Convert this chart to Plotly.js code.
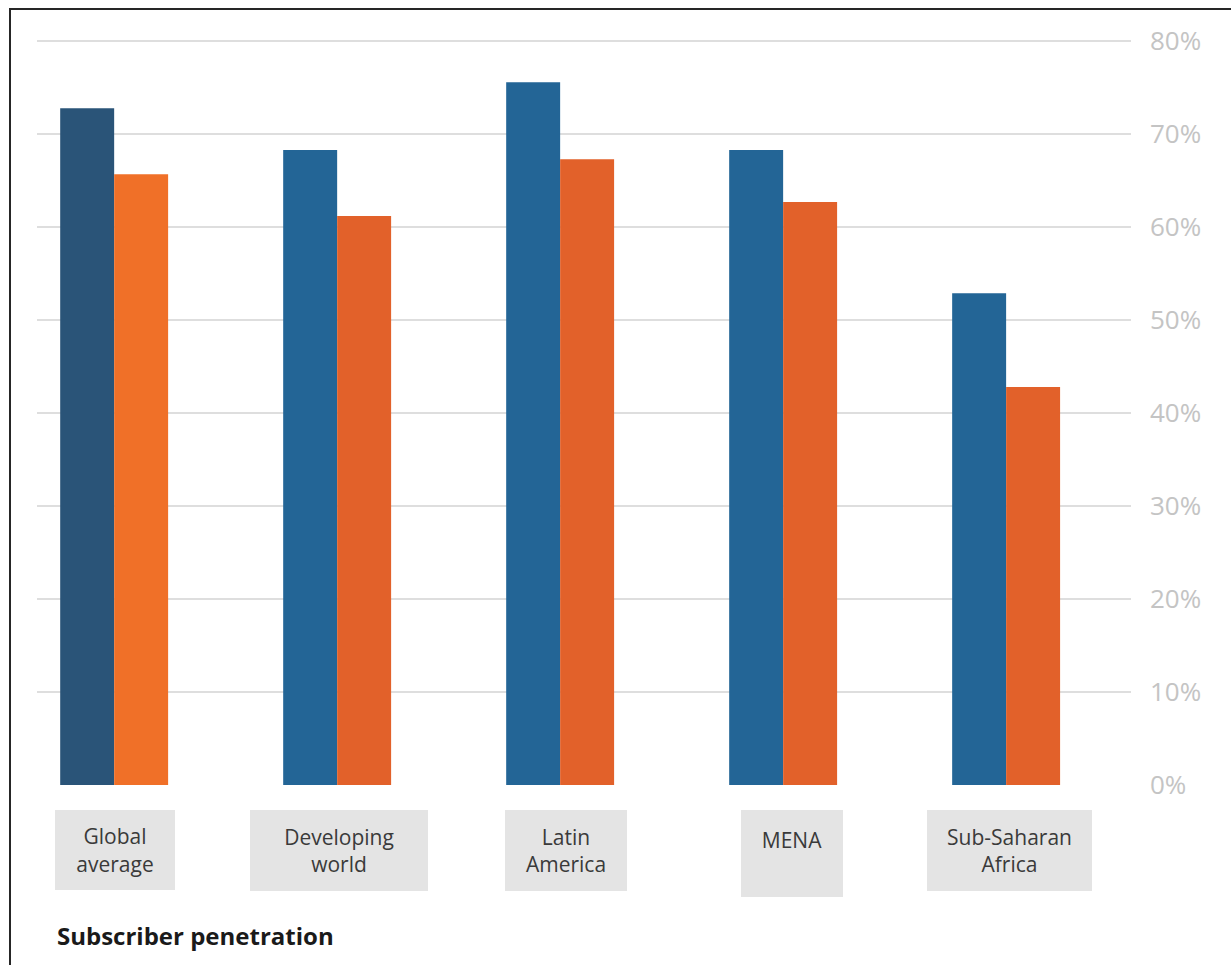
<!DOCTYPE html>
<html>
<head>
<meta charset="utf-8">
<script src="https://cdn.plot.ly/plotly-3.0.1.min.js"></script>
<style>
  html, body { margin: 0; padding: 0; background: #ffffff; }
  #chart { width: 1231px; height: 965px; }
  #frame { position: absolute; left: 9px; top: 8px; width: 1240px; height: 1000px;
           border-left: 2px solid #262626; border-top: 2px solid #262626; pointer-events: none; }
</style>
</head>
<body>
<div id="chart"></div>
<div id="frame"></div>
<script>
// ---- data ----
const categories = ["Global average", "Developing world", "Latin America", "MENA", "Sub-Saharan Africa"];
const categoryLabels = ["Global<br>average", "Developing<br>world", "Latin<br>America", "MENA<br> ", "Sub-Saharan<br>Africa"];
const seriesA = [0.728, 0.683, 0.756, 0.683, 0.529];   // blue bars
const seriesB = [0.657, 0.612, 0.673, 0.627, 0.428];   // orange bars
const yTickValues = [0, 0.1, 0.2, 0.3, 0.4, 0.5, 0.6, 0.7, 0.8];
const yTickLabels = ["0%", "10%", "20%", "30%", "40%", "50%", "60%", "70%", "80%"];
const chartTitle = "Subscriber penetration";

// ---- styling (not data) ----
const blueColors = ["#2a5478", "#236596", "#236596", "#236596", "#236596"];
const orangeColors = ["#f07028", "#e2612a", "#e2612a", "#e2612a", "#e2612a"];
const labelBoxWidths = [120, 178, 122, 102, 165];
const labelBoxHeights = [80, 81, 81, 87, 81];
const labelBoxShift = [1, 2, 6, 9, 3];

const traces = [
  { type: "bar", x: categories, y: seriesA, marker: { color: blueColors }, showlegend: false, hoverinfo: "x+y" },
  { type: "bar", x: categories, y: seriesB, marker: { color: orangeColors }, showlegend: false, hoverinfo: "x+y" }
];

const annotations = categories.map((c, i) => ({
  xref: "x", yref: "paper", x: c, y: -0.0332, xanchor: "center", yanchor: "top",
  xshift: labelBoxShift[i],
  text: categoryLabels[i], showarrow: false,
  width: labelBoxWidths[i], height: labelBoxHeights[i],
  bgcolor: "#e4e4e4", borderpad: 0, borderwidth: 0, valign: "middle", align: "center",
  font: { family: "Open Sans, sans-serif", size: 21, color: "#3a3a3a" }
}));

const layout = {
  width: 1231, height: 965,
  margin: { l: 37, r: 100, t: 32, b: 180 },
  paper_bgcolor: "#ffffff", plot_bgcolor: "#ffffff",
  barmode: "group", bargap: 0.516, bargroupgap: 0,
  title: {
    text: "<b>" + chartTitle + "</b>",
    xref: "container", yref: "container", x: 57 / 1231, xanchor: "left",
    y: 1 - 937 / 965, yanchor: "middle",
    font: { family: "Open Sans, sans-serif", size: 24, color: "#1a1a1a" }
  },
  xaxis: {
    type: "category", range: [-0.346, 4.56], showticklabels: false, showgrid: false,
    zeroline: false, showline: false, ticks: "", fixedrange: true
  },
  yaxis: {
    side: "right", range: [0, 0.81], tickvals: yTickValues, ticktext: yTickLabels,
    showgrid: true, gridcolor: "#dedede", gridwidth: 2, zeroline: false, showline: false,
    ticks: "", ticklabelstandoff: 18,
    tickfont: { family: "Open Sans, sans-serif", size: 26, color: "#c4c4c4" }, fixedrange: true
  },
  annotations: annotations
};

Plotly.newPlot("chart", traces, layout, { displayModeBar: false, staticPlot: true });
</script>
</body>
</html>
